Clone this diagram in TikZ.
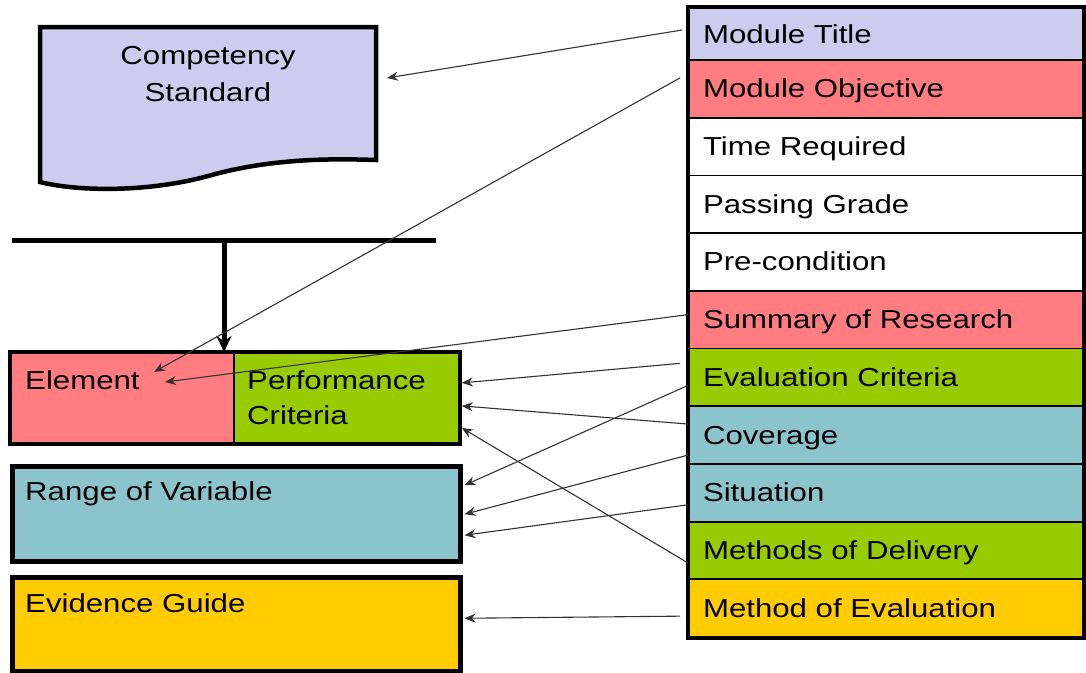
\documentclass[tikz,border=0pt]{standalone}
\usepackage{fontspec}
\setmainfont{Liberation Sans}[FakeStretch=1.2]
\usetikzlibrary{arrows.meta,calc}
\definecolor{lav}{RGB}{204,204,238}
\definecolor{rose}{RGB}{255,124,128}
\definecolor{lime}{RGB}{153,204,0}
\definecolor{tealb}{RGB}{139,196,204}
\definecolor{gold}{RGB}{255,204,0}
\begin{document}
\begin{tikzpicture}[x=1pt,y=-1pt,
  font=\fontsize{26}{36}\selectfont,
  row/.style={draw, line width=1.8pt, minimum width=394pt, text width=366pt,
    inner xsep=14pt, inner ysep=0pt, align=left, text height=24pt, text depth=6pt,
    anchor=center},
  box/.style={draw, line width=1.8pt, anchor=north west, inner sep=0pt},
  lbl/.style={anchor=base west, inner sep=0pt},
  arr/.style={-{Stealth[length=11pt,width=9pt]}, line width=1.1pt, draw=black!80},
  bigarr/.style={-{Stealth[length=16pt,width=15pt]}, line width=5pt}]
\useasboundingbox (0,0) rectangle (1086,672);

% competency standard document shape
\draw[line width=4.5pt, fill=lav] (40,27) -- (376,27) -- (376,160)
  .. controls (320,158) and (265,160) .. (208,176)
  .. controls (150,192) and (80,192) .. (40,182) -- cycle;
\node[align=center, font=\fontsize{26}{37}\selectfont, inner sep=0pt] (cs) at (208,74) {Competency\\Standard};

% horizontal bar and vertical arrow
\coordinate (hl1) at (12,240);
\coordinate (hl2) at (436,240);
\coordinate (vt) at (224,240);
\draw[line width=5pt] (hl1) -- (hl2);

% left boxes
\node[box, fill=rose, minimum width=223pt, minimum height=90pt] (el) at (10,352) {};
\node[box, fill=lime, minimum width=225pt, minimum height=90pt] (pc) at (233,352) {};
\draw[line width=4.5pt] (el.north west) rectangle (pc.south east);
\node[box, fill=tealb, line width=4.5pt, minimum width=448pt, minimum height=95pt] (rv) at (10,464) {};
\node[box, fill=gold, line width=4.5pt, minimum width=448pt, minimum height=94pt] (eg) at (10,575) {};

\node[lbl] (elt) at (25,389) {Element};
\node[lbl] (pct1) at (247,389) {Performance};
\node[lbl] (pct2) at (247,424) {Criteria};
\node[lbl] (rvt) at (25,500) {Range of Variable};
\node[lbl] (egt) at (25,612) {Evidence Guide};

\draw[bigarr] (vt) -- (vt |- el.north);

% right column
\node[row, fill=lav, minimum height=52pt] (r1) at (886,34) {Module Title};
\node[row, fill=rose, minimum height=57.7pt] (r2) at (886,88.85) {Module Objective};
\node[row, fill=white, minimum height=57.7pt] (r3) at (886,146.55) {Time Required};
\node[row, fill=white, minimum height=57.7pt] (r4) at (886,204.25) {Passing Grade};
\node[row, fill=white, minimum height=57.7pt] (r5) at (886,261.95) {Pre-condition};
\node[row, fill=rose, minimum height=57.7pt] (r6) at (886,319.65) {Summary of Research};
\node[row, fill=lime, minimum height=57.7pt] (r7) at (886,377.35) {Evaluation Criteria};
\node[row, fill=tealb, minimum height=57.7pt] (r8) at (886,435.05) {Coverage};
\node[row, fill=tealb, minimum height=57.7pt] (r9) at (886,492.75) {Situation};
\node[row, fill=lime, minimum height=57.7pt] (r10) at (886,550.45) {Methods of Delivery};
\node[row, fill=gold, minimum height=57.7pt] (r11) at (886,608.15) {Method of Evaluation};
\draw[line width=4pt] (r1.north west) rectangle (r11.south east);

% arrow tips
\coordinate (t1) at (387,78);
\coordinate (t2) at (154,372);
\coordinate (t3) at (165,382);

\draw[arr] ($(r1.west)+(-6,-4)$) -- (t1);
\draw[arr] ($(r2.west)+(-8,-11)$) -- (t2);
\draw[arr] ($(r6.west)+(0,-5)$) -- (t3);
\draw[arr] ($(r7.west)+(-8,-14)$) -- ($(pc.east)+(2,-15)$);
\draw[arr] ($(r8.west)+(0,-11)$) -- ($(pc.east)+(2,8)$);
\draw[arr] ($(r7.west)+(0,8)$) -- ($(rv.east)+(2,-28.5)$);
\draw[arr] ($(r8.west)+(0,20)$) -- ($(rv.east)+(2,0.5)$);
\draw[arr] ($(r9.west)+(0,12)$) -- ($(rv.east)+(2,21.5)$);
\draw[arr] ($(r10.west)+(0,12.6)$) -- ($(pc.east)+(2,30)$);
\draw[arr] ($(r11.west)+(-8,8)$) -- ($(eg.east)+(2,-6)$);
\end{tikzpicture}
\end{document}
